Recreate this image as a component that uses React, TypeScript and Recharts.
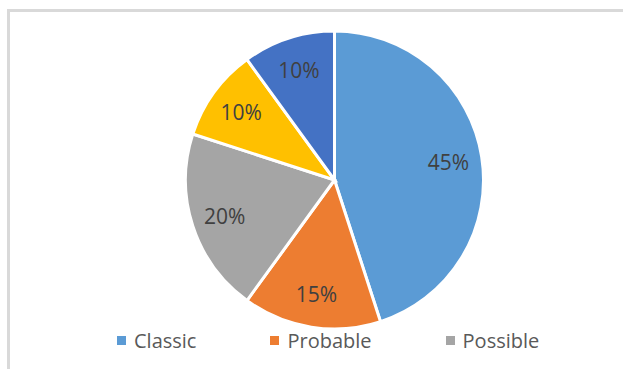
import { PieChart, Pie, Cell, Legend } from "recharts"

const categories = ["Classic", "Probable", "Possible", "Atypical", "Other"]
const shares = [45, 15, 20, 10, 10]
const colors = ["#5B9BD5", "#ED7D31", "#A5A5A5", "#FFC000", "#4472C4"]
// only the first legend row is visible in the reference
const legendCount = 3

const data = categories.map((name, i) => ({ name, value: shares[i] }))

const RAD = Math.PI / 180
const FONT = "'Open Sans', 'Noto Sans', sans-serif"

function renderLabel(props: any) {
  const { cx, cy, midAngle, outerRadius, percent } = props
  const r = outerRadius * 0.775
  const x = cx + r * Math.cos(-midAngle * RAD)
  const y = cy + r * Math.sin(-midAngle * RAD)
  return (
    <text
      x={x}
      y={y}
      fill="#404040"
      fontSize={21}
      fontFamily={FONT}
      textAnchor="middle"
      dominantBaseline="central"
    >
      {`${Math.round(percent * 100)}%`}
    </text>
  )
}

function LegendContent() {
  return (
    <div style={{ display: "flex", width: 540, fontFamily: FONT, fontSize: 20, color: "#595959" }}>
      {categories.slice(0, legendCount).map((name, i) => (
        <div key={name} style={{ display: "flex", alignItems: "center", marginRight: 74, height: 28 }}>
          <span style={{ width: 9, height: 9, background: colors[i], display: "inline-block", marginRight: 8 }} />
          <span>{name}</span>
        </div>
      ))}
    </div>
  )
}

export default function App() {
  return (
    <div style={{ position: "fixed", left: 0, top: 0, width: 623, height: 369, overflow: "hidden", background: "#fff" }}>
      <div
        style={{
          position: "absolute",
          left: 7,
          top: 9,
          width: 700,
          height: 500,
          border: "3px solid #d9d9d9",
        }}
      />
      <div style={{ position: "absolute", left: 0, top: 0 }}>
        <PieChart width={623} height={369} margin={{ top: 0, right: 0, bottom: 0, left: 0 }}>
          <Pie
            data={data}
            dataKey="value"
            nameKey="name"
            cx={334.5}
            cy={180}
            outerRadius={149}
            startAngle={90}
            endAngle={-270}
            stroke="#fff"
            strokeWidth={3}
            label={renderLabel}
            labelLine={false}
            isAnimationActive={false}
          >
            {data.map((d, i) => (
              <Cell key={d.name} fill={colors[i]} />
            ))}
          </Pie>
          <Legend
            content={<LegendContent />}
            wrapperStyle={{ position: "absolute", left: 117, top: 326, width: 540 }}
          />
        </PieChart>
      </div>
    </div>
  )
}
